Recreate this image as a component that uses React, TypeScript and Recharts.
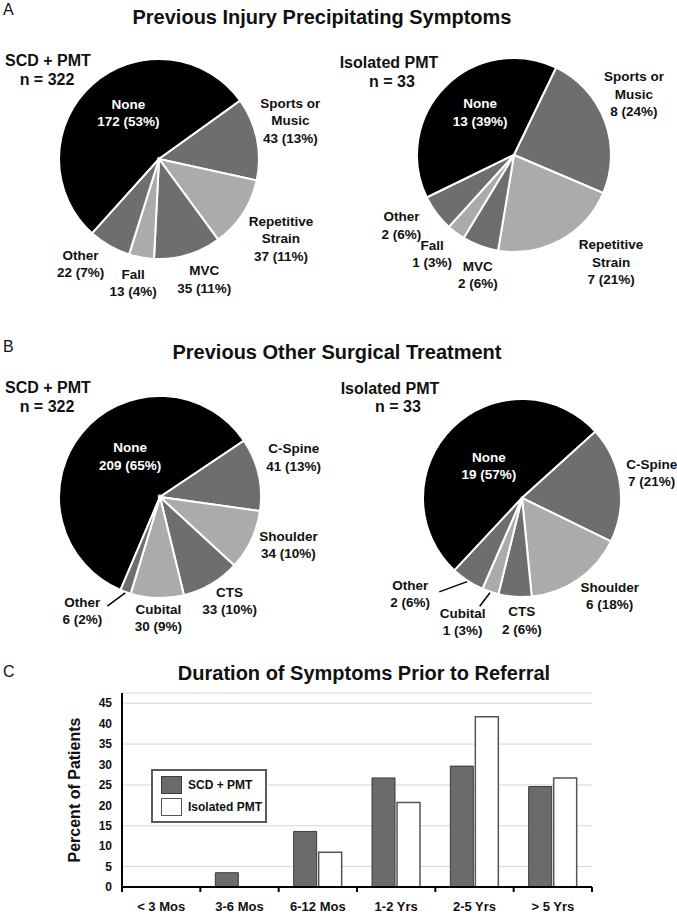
import { PieChart, Pie, Cell, BarChart, Bar, XAxis, YAxis, CartesianGrid, Legend } from "recharts";

const FONT = '"Liberation Sans", Arial, Helvetica, sans-serif';

// panel A: previous injury
const injuryNames = ["None", "Sports or\nMusic", "Repetitive\nStrain", "MVC", "Fall", "Other"];
const injurySCD = [172, 43, 37, 35, 13, 22];
const injurySCDPct = [53, 13, 11, 11, 4, 7];
const injuryIso = [13, 8, 7, 2, 1, 2];
const injuryIsoPct = [39, 24, 21, 6, 3, 6];

// panel B: previous other surgery
const surgeryNames = ["None", "C-Spine", "Shoulder", "CTS", "Cubital", "Other"];
const surgerySCD = [209, 41, 34, 33, 30, 6];
const surgerySCDPct = [65, 13, 10, 10, 9, 2];
const surgeryIso = [19, 7, 6, 2, 1, 2];
const surgeryIsoPct = [57, 21, 18, 6, 3, 6];

// panel C: duration of symptoms
const durations = ["< 3 Mos", "3-6 Mos", "6-12 Mos", "1-2 Yrs", "2-5 Yrs", "> 5 Yrs"];
const scdDuration = [0, 3.5, 13.6, 26.7, 29.6, 24.6];
const isoDuration = [0, 0, 8.5, 20.7, 41.7, 26.7];
const yTicks = [0, 5, 10, 15, 20, 25, 30, 35, 40, 45];
const seriesOrder = ["scd", "iso"];

const shades = ["#000000", "#6e6e6e", "#ababab", "#6e6e6e", "#ababab", "#6e6e6e"];

const toSlices = (names: string[], vals: number[]) => names.map((name, i) => ({ name, value: vals[i] }));
const barData = durations.map((cat, i) => ({ cat, scd: scdDuration[i], iso: isoDuration[i] }));

// label placement tweaks (layout only)
const nudgeA1 = [[6, -5], [4, -12], [13, 9], [8, -4], [-3, -4], [-14, -8]];
const nudgeA2 = [[4, -5], [1, -16], [36, -4], [8, 1], [-6, -3], [-11, -6]];
const nudgeB1 = [[13, -5], [6, -10], [10, -8], [3, -9], [2, -10], [-33, -9]];
const nudgeB2 = [[5, 7], [2, -7], [14, -8], [9, -6], [-18, 2], [-41, -12]];
const leadB1: Record<number, number[]> = { 5: [25, -5] };
const leadB2: Record<number, number[]> = { 4: [17, -16], 5: [29, -2] };

const LINE = 17.5;

function makeLabel(pcts: number[], nudges: number[][], leaders: Record<number, number[]> = {}) {
  return (props: any) => {
    const { cx, cy, midAngle, outerRadius, index, value } = props;
    const name = props.payload?.name ?? props.name;
    const inside = index === 0;
    const d = inside ? outerRadius * 0.55 : outerRadius + 30;
    const rad = (midAngle * Math.PI) / 180;
    const lx = cx + d * Math.cos(rad) + nudges[index][0];
    const ly = cy - d * Math.sin(rad) + nudges[index][1];
    const lines = [...String(name).split("\n"), `${value} (${pcts[index]}%)`];
    const top = ly - ((lines.length - 1) * LINE) / 2;
    const lead = leaders[index];
    return (
      <g>
        {lead && (
          <line
            x1={lx + lead[0]}
            y1={ly + lead[1]}
            x2={cx + (outerRadius + 1) * Math.cos(rad)}
            y2={cy - (outerRadius + 1) * Math.sin(rad)}
            stroke="#000"
            strokeWidth={1.5}
          />
        )}
        <text
          x={lx}
          y={top}
          textAnchor="middle"
          fill={inside ? "#fff" : "#111"}
          fontSize={13.5}
          fontWeight="bold"
          fontFamily={FONT}
        >
          {lines.map((l, i) => (
            <tspan key={i} x={lx} y={top + i * LINE} dominantBaseline="central">
              {l}
            </tspan>
          ))}
        </text>
      </g>
    );
  };
}

const abs = (left: number, top: number, extra: any = {}) => ({ position: "absolute" as const, left, top, ...extra });

function CenterText({ x, y, size, bold = true, children }: any) {
  return (
    <div
      style={abs(x - 250, y - size * 0.6, {
        width: 500,
        textAlign: "center",
        fontSize: size,
        lineHeight: `${size * 1.2}px`,
        fontWeight: bold ? "bold" : "normal",
        whiteSpace: "nowrap",
      })}
    >
      {children}
    </div>
  );
}

const HALF_BAND = 470 / 12;

function DurationTick(props: any) {
  const { x, y, payload, index } = props;
  return (
    <g>
      <line x1={x - HALF_BAND} x2={x - HALF_BAND} y1={y} y2={y + 5} stroke="#000" strokeWidth={2} />
      {index === durations.length - 1 && (
        <line x1={x + HALF_BAND} x2={x + HALF_BAND} y1={y} y2={y + 5} stroke="#000" strokeWidth={2} />
      )}
      <text x={x} y={y + 19} textAnchor="middle" dominantBaseline="central" fontSize={13} fontWeight="bold" fill="#111" fontFamily={FONT}>
        {payload.value}
      </text>
    </g>
  );
}

function LegendBox(props: any) {
  const items = [...(props.payload || [])].sort(
    (a: any, b: any) => seriesOrder.indexOf(a.dataKey) - seriesOrder.indexOf(b.dataKey)
  );
  return (
    <div
      style={{
        position: "relative",
        width: 116,
        height: 54,
        boxSizing: "border-box",
        border: "2px solid #5a5a5a",
        background: "#fff",
        fontFamily: FONT,
      }}
    >
      {items.map((it: any, i: number) => (
        <div key={i}>
          <div
            style={abs(8, 5 + i * 22, {
              width: 21,
              height: 18,
              boxSizing: "border-box",
              background: it.color,
              border: `1.5px solid ${i === 0 ? "#3c3c3c" : "#555"}`,
            })}
          />
          <div style={abs(35, 5 + i * 22, { lineHeight: "18px", fontSize: 12, fontWeight: "bold", color: "#111", whiteSpace: "nowrap" })}>
            {it.value}
          </div>
        </div>
      ))}
    </div>
  );
}

export default function App() {
  const pieCommon = { dataKey: "value", stroke: "#fff", strokeWidth: 2, labelLine: false, isAnimationActive: false };
  return (
    <div style={abs(0, 0, { width: 677, height: 915, background: "#fff", fontFamily: FONT, color: "#111", overflow: "hidden" })}>
      <div style={abs(3, 1, { fontSize: 16, lineHeight: "18px" })}>A</div>
      <div style={abs(3, 338, { fontSize: 16, lineHeight: "18px" })}>B</div>
      <div style={abs(3, 663, { fontSize: 16, lineHeight: "18px" })}>C</div>

      <CenterText x={322} y={17} size={20}>Previous Injury Precipitating Symptoms</CenterText>
      <CenterText x={337} y={352} size={20}>Previous Other Surgical Treatment</CenterText>
      <CenterText x={364} y={673} size={20}>Duration of Symptoms Prior to Referral</CenterText>

      <CenterText x={48} y={61} size={16}>SCD + PMT</CenterText>
      <CenterText x={47} y={80} size={16}>n = 322</CenterText>
      <CenterText x={389} y={63} size={16}>Isolated PMT</CenterText>
      <CenterText x={392} y={82} size={16}>n = 33</CenterText>
      <CenterText x={48} y={388} size={16}>SCD + PMT</CenterText>
      <CenterText x={47} y={407} size={16}>n = 322</CenterText>
      <CenterText x={390} y={389} size={16}>Isolated PMT</CenterText>
      <CenterText x={398} y={407} size={16}>n = 33</CenterText>

      <div style={abs(0, 0)}>
        <PieChart width={677} height={645}>
          <Pie
            {...pieCommon}
            data={toSlices(injuryNames, injurySCD)}
            cx={154}
            cy={154}
            outerRadius={100}
            startAngle={228}
            endAngle={228 - 360}
            label={makeLabel(injurySCDPct, nudgeA1)}
          >
            {injurySCD.map((_, i) => (
              <Cell key={i} fill={shades[i]} />
            ))}
          </Pie>
          <Pie
            {...pieCommon}
            data={toSlices(injuryNames, injuryIso)}
            cx={509}
            cy={150}
            outerRadius={97}
            startAngle={206}
            endAngle={206 - 360}
            label={makeLabel(injuryIsoPct, nudgeA2)}
          >
            {injuryIso.map((_, i) => (
              <Cell key={i} fill={shades[i]} />
            ))}
          </Pie>
          <Pie
            {...pieCommon}
            data={toSlices(surgeryNames, surgerySCD)}
            cx={155}
            cy={492}
            outerRadius={101}
            startAngle={247}
            endAngle={247 - 360}
            label={makeLabel(surgerySCDPct, nudgeB1, leadB1)}
          >
            {surgerySCD.map((_, i) => (
              <Cell key={i} fill={shades[i]} />
            ))}
          </Pie>
          <Pie
            {...pieCommon}
            data={toSlices(surgeryNames, surgeryIso)}
            cx={517}
            cy={493}
            outerRadius={99}
            startAngle={227}
            endAngle={227 - 360}
            label={makeLabel(surgeryIsoPct, nudgeB2, leadB2)}
          >
            {surgeryIso.map((_, i) => (
              <Cell key={i} fill={shades[i]} />
            ))}
          </Pie>
        </PieChart>
      </div>

      <div style={abs(0, 690)}>
        <BarChart width={677} height={225} data={barData} margin={{ top: 3, right: 85, bottom: 8, left: 0 }} barSize={23} barGap={2}>
          <CartesianGrid vertical={false} stroke="#d6d6d6" strokeWidth={1} />
          <XAxis
            dataKey="cat"
            height={20}
            interval={0}
            axisLine={{ stroke: "#000", strokeWidth: 2 }}
            tickLine={false}
            tickSize={0}
            tickMargin={0}
            tick={<DurationTick />}
          />
          <YAxis
            width={122}
            domain={[0, 47.5]}
            ticks={yTicks}
            allowDataOverflow
            axisLine={{ stroke: "#000", strokeWidth: 2 }}
            tickLine={false}
            tickMargin={4}
            tick={{ fill: "#111", fontSize: 12, fontWeight: "bold", fontFamily: FONT }}
          />
          <Legend
            layout="horizontal"
            verticalAlign="middle"
            align="center"
            content={<LegendBox />}
            wrapperStyle={{ left: 151, top: 79, bottom: "auto", width: 116, height: 54 }}
          />
          <Bar dataKey="scd" name="SCD + PMT" fill="#6b6b6b" stroke="#3c3c3c" strokeWidth={1} isAnimationActive={false} />
          <Bar dataKey="iso" name="Isolated PMT" fill="#ffffff" stroke="#555555" strokeWidth={1.5} isAnimationActive={false} />
        </BarChart>
      </div>

      <div
        style={abs(75 - 100, 790 - 10, {
          width: 200,
          height: 20,
          lineHeight: "20px",
          textAlign: "center",
          fontSize: 16,
          fontWeight: "bold",
          transform: "rotate(-90deg)",
          whiteSpace: "nowrap",
        })}
      >
        Percent of Patients
      </div>
    </div>
  );
}
